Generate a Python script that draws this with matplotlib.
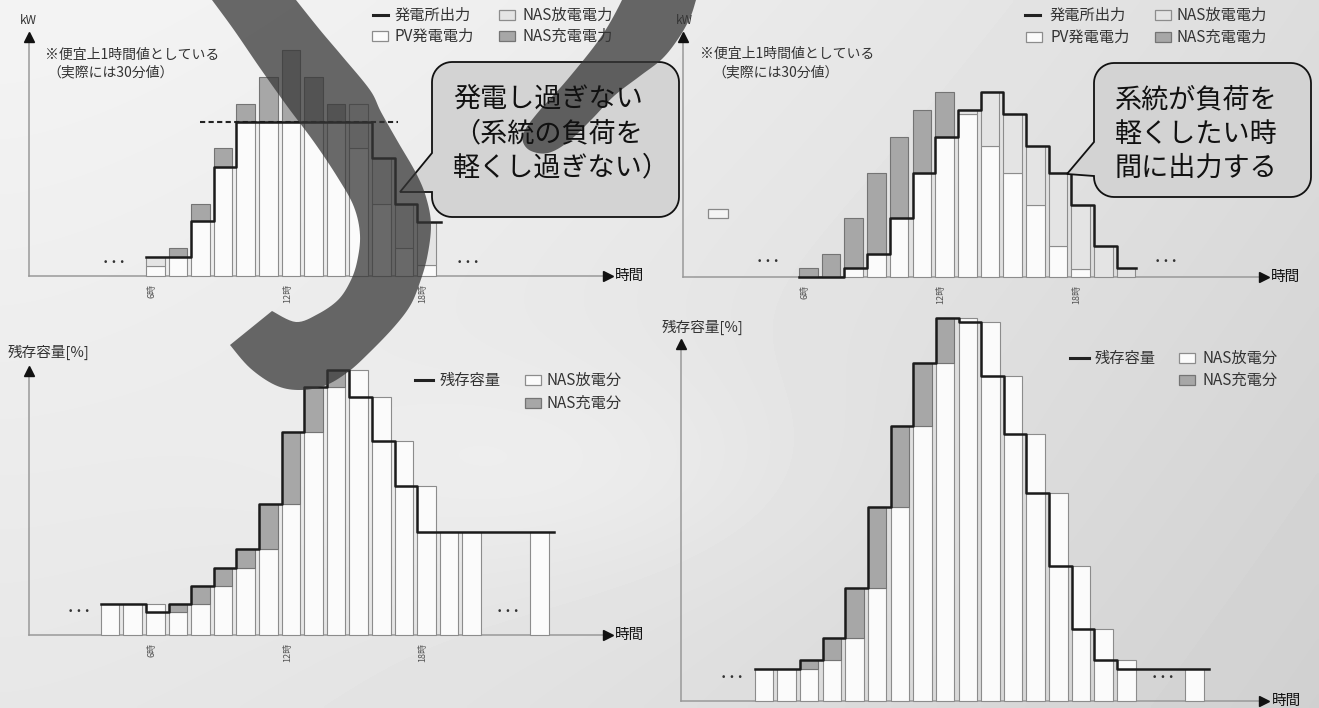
import numpy as np
import matplotlib
matplotlib.use("Agg")
import matplotlib.pyplot as plt
from matplotlib.patches import Polygon, Rectangle
from matplotlib.lines import Line2D
from matplotlib.transforms import Affine2D

plt.rcParams['font.family'] = ['Noto Sans CJK JP', 'DejaVu Sans']

W, H = 1319, 708

# 上段左: 発電し過ぎない運用（kW, 相対値）
hours_tl = list(range(6, 19))
pv_tl = [10, 28, 72, 128, 172, 199, 226, 199, 172, 128, 72, 28, 11]
out_tl = [19, 19, 55, 109, 154, 154, 154, 154, 154, 154, 118, 72, 54]
dis_tl = [9, 0, 0, 0, 0, 0, 0, 0, 0, 44, 46, 44, 43]
cap_tl = 154

# 上段右: 負荷を軽くしたい時間に出力
hours_tr = list(range(6, 21))
pv_tr = [9, 23, 59, 104, 140, 167, 185, 163, 131, 104, 72, 31, 8, 0, 0]
out_tr = [0, 0, 9, 23, 59, 104, 140, 167, 185, 163, 131, 104, 72, 31, 9]

# 下段: 残存容量（4時〜23時）
hours_soc = list(range(4, 24))
bar_hours_soc = list(range(4, 21)) + [23]
soc_bl = [31, 31, 23, 31, 49, 67, 86, 131, 203, 248, 265, 238, 194, 149,
          103, 103, 103, 103, 103, 103]
soc_br = [32, 32, 41, 63, 113, 194, 275, 338, 383, 379, 325, 267, 208, 135,
          72, 41, 32, 32, 32, 32]

tick_hours = [6, 12, 18]
tick_labels = ['6時', '12時', '18時']

bubble_tl = ['発電し過ぎない', '（系統の負荷を', '軽くし過ぎない）']
bubble_tr = ['系統が負荷を', '軽くしたい時', '間に出力する']

WHITE, LIGHT, GRAY = '#fbfbfb', '#e4e4e4', '#a7a7a7'
EDGE, EDGE_D = '#8c8c8c', '#747474'
BAR_W, OFF = 0.82, 0.25

fig = plt.figure(figsize=(W / 100, H / 100), dpi=100)
pix = Affine2D().scale(1 / W, -1 / H).translate(0, 1) + fig.transFigure

# 背景のグラデーション
bg = fig.add_axes([0, 0, 1, 1], zorder=-10)
yy, xx = np.mgrid[0:H:4, 0:W:4]
shade = 0.955 - 0.09 * (xx / W) ** 1.5 - 0.05 * (yy / H)
shade += 0.03 * np.exp(-(((xx - 560) / 260) ** 2 + ((yy - 470) / 110) ** 2))
bg.imshow(shade, cmap='gray', vmin=0, vmax=1, extent=(0, W, H, 0),
          aspect='auto', interpolation='bilinear')
bg.set_axis_off()


def panel(L, T, R, B, X0, s):
    ax = fig.add_axes([L / W, 1 - B / H, (R - L) / W, (B - T) / H])
    ax.set_xlim((L - X0) / s, (R - X0) / s)
    ax.set_ylim(0, B - T)
    ax.patch.set_alpha(0)
    for sp in ax.spines.values():
        sp.set_visible(False)
    ax.set_yticks([])
    ax.set_xticks(tick_hours, tick_labels, rotation=90, fontsize=6.5, color='#555')
    ax.tick_params(axis='x', length=0, pad=6)
    wpx, hpx = R - L, B - T
    ax.plot([0, 1 - 9 / wpx], [0, 0], transform=ax.transAxes, color='#999',
            lw=1.1, clip_on=False, zorder=1)
    ax.plot([1 - 4 / wpx], [0], '>', transform=ax.transAxes, color='#111',
            ms=7, clip_on=False)
    ax.plot([0, 0], [0, 1 - 8 / hpx], transform=ax.transAxes, color='#999',
            lw=1.1, clip_on=False, zorder=1)
    ax.plot([0], [1 - 4 / hpx], '^', transform=ax.transAxes, color='#111',
            ms=7, clip_on=False)
    return ax


def stack(ax, hours, bottoms, heights, fc, ec):
    hours = np.asarray(hours)
    bottoms = np.broadcast_to(np.asarray(bottoms, float), hours.shape)
    heights = np.asarray(heights, float)
    keep = heights > 0
    bars = ax.bar(hours[keep] - OFF, heights[keep], bottom=bottoms[keep],
                  width=BAR_W, align='edge', color=fc, edgecolor=ec,
                  linewidth=0.8, zorder=2)
    for b in bars:
        b.set_clip_on(False)


def step_line(ax, hours, levels, tail=0.8):
    xs = [h - OFF for h in hours] + [hours[-1] + tail]
    ys = list(levels) + [levels[-1]]
    ax.step(xs, ys, where='post', color='#1b1b1b', lw=1.8, zorder=4,
            clip_on=False)


def soc_bars(ax, levels):
    prev = [levels[0]] + levels[:-1]
    for h in bar_hours_soc:
        i = hours_soc.index(h)
        lo, hi = min(prev[i], levels[i]), max(prev[i], levels[i])
        up = levels[i] > prev[i]
        stack(ax, [h], 0, [lo], WHITE, EDGE)
        stack(ax, [h], lo, [hi - lo], GRAY if up else WHITE, EDGE_D if up else EDGE)
    step_line(ax, hours_soc, levels)


def dots(ax, x, y):
    ax.text(x, y, '• • •', ha='center', va='center', fontsize=6.5,
            color='#333', family='DejaVu Sans')


# 上段左
ax = panel(29, 33, 612, 276, 16.05, 22.6)
pv, out, dis = np.array(pv_tl), np.array(out_tl), np.array(dis_tl)
chg = np.clip(pv - out, 0, None)
stack(ax, hours_tl, 0, pv - chg, WHITE, EDGE)
stack(ax, hours_tl, pv - chg, chg, GRAY, EDGE_D)
stack(ax, hours_tl, pv, dis, LIGHT, EDGE)
ax.plot([8.14, 16.9], [cap_tl, cap_tl], color='#222', lw=1.5,
        ls=(0, (2.5, 1.6)), zorder=3)
step_line(ax, hours_tl, out_tl)
dots(ax, 4.35, 14)
dots(ax, 20.0, 14)

# 上段右
ax = panel(683, 33, 1268, 277, 668.5, 22.7)
pv, out = np.array(pv_tr), np.array(out_tr)
lo = np.minimum(pv, out)
stack(ax, hours_tr, 0, lo, WHITE, EDGE)
stack(ax, hours_tr, lo, pv - lo, GRAY, EDGE_D)
stack(ax, hours_tr, lo, out - lo, LIGHT, EDGE)
step_line(ax, hours_tr, out_tr, tail=0.6)
dots(ax, 4.4, 15)
dots(ax, 21.9, 15)

# 下段左・下段右
ax = panel(29, 367, 612, 635, 16.05, 22.6)
soc_bars(ax, soc_bl)
dots(ax, 2.8, 23)
dots(ax, 21.75, 23)

ax = panel(681, 340, 1268, 701, 669.6, 22.66)
soc_bars(ax, soc_br)
dots(ax, 2.75, 23)
dots(ax, 21.75, 23)


def ptext(x, y, s, size=10.5, ha='left', color='#333', z=3, **kw):
    fig.text(x, y, s, transform=pix, fontsize=size, ha=ha, va='center',
             color=color, zorder=z, **kw)


def leg_line(x0, x1, y, label, tx):
    fig.add_artist(Line2D([x0, x1], [y, y], transform=pix, color='#222', lw=2.2))
    ptext(tx, y, label, size=11)


def leg_box(x0, y, label, tx, fc, ec=EDGE):
    fig.add_artist(Rectangle((x0, y - 5), 16, 10, transform=pix, fc=fc, ec=ec, lw=0.9))
    ptext(tx, y, label, size=11)


# 凡例
leg_line(373, 388, 15, '発電所出力', 395)
leg_box(499, 15, 'NAS放電電力', 523, LIGHT)
leg_box(372, 36, 'PV発電電力', 395, WHITE)
leg_box(499, 36, 'NAS充電電力', 523, GRAY, EDGE_D)

leg_line(1025, 1040, 15, '発電所出力', 1050)
leg_box(1155, 15, 'NAS放電電力', 1177, LIGHT)
leg_box(1026, 37, 'PV発電電力', 1050, WHITE)
leg_box(1155, 37, 'NAS充電電力', 1177, GRAY, EDGE_D)

leg_line(415, 433, 380, '残存容量', 440)
leg_box(525, 380, 'NAS放電分', 547, WHITE)
leg_box(525, 403, 'NAS充電分', 547, GRAY, EDGE_D)

leg_line(1070, 1089, 358, '残存容量', 1095)
leg_box(1179, 358, 'NAS放電分', 1202, WHITE)
leg_box(1179, 380, 'NAS充電分', 1202, GRAY, EDGE_D)

# 軸ラベル・注記
ptext(28, 20, 'kW', size=8.5, ha='center')
ptext(684, 20, 'kW', size=8.5, ha='center')
ptext(45, 55, '※便宜上1時間値としている', size=10)
ptext(47, 72, '（実際には30分値）', size=10)
ptext(700, 54, '※便宜上1時間値としている', size=10)
ptext(712, 72, '（実際には30分値）', size=10)
ptext(8, 352, '残存容量[%]', size=10.5)
ptext(662, 327, '残存容量[%]', size=10.5)
for x, y in [(615, 276), (1271, 277), (615, 635), (1272, 701)]:
    ptext(x, y, '時間', size=10.5, color='#111')

# 小さな枠（上段右）
fig.add_artist(Rectangle((708, 209), 20, 9, transform=pix, fc='#f4f4f4',
                         ec='#888', lw=0.9))


def bubble(x0, y0, x1, y1, r, ta, tb, tip):
    def arc(cx, cy, a0, a1):
        t = np.radians(np.linspace(a0, a1, 12))
        return list(zip(cx + r * np.cos(t), cy + r * np.sin(t)))
    pts = (arc(x0 + r, y0 + r, 180, 270) + arc(x1 - r, y0 + r, 270, 360)
           + arc(x1 - r, y1 - r, 0, 90) + arc(x0 + r, y1 - r, 90, 180)
           + [(x0, tb), tip, (x0, ta)])
    fig.add_artist(Polygon(pts, closed=True, transform=pix, fc='#d3d3d3',
                           ec='#111', lw=1.3, zorder=4))


bubble(432, 62, 679, 217, 20, 153, 192, (400, 192))
bubble(1094, 63, 1311, 197, 20, 142, 176, (1067, 174))
for i, s in enumerate(bubble_tl):
    ptext(453, 100 + 34 * i, s, size=19.5, color='#111', z=7)
for i, s in enumerate(bubble_tr):
    ptext(1115, 100 + 34 * i, s, size=19.5, color='#111', z=7)


# 背景の装飾（半透明の帯）
def smooth(pts, n=8):
    p = np.asarray(pts, float)
    p = np.vstack([p[0], p, p[-1]])
    res = []
    for i in range(1, len(p) - 2):
        p0, p1, p2, p3 = p[i - 1], p[i], p[i + 1], p[i + 2]
        for t in np.linspace(0, 1, n, endpoint=False):
            res.append(0.5 * (2 * p1 + (-p0 + p2) * t
                              + (2 * p0 - 5 * p1 + 4 * p2 - p3) * t * t
                              + (-p0 + 3 * p1 - 3 * p2 + p3) * t ** 3))
    res.append(p[-2])
    return np.array(res)


inner = [(212, 0), (234, 30), (260, 68), (287, 106), (314, 142), (338, 178),
         (354, 207), (360, 235), (357, 262), (350, 282), (338, 300),
         (318, 314), (296, 322), (272, 311)]
outer = [(230, 345), (250, 368), (275, 385), (298, 390), (324, 386),
         (348, 372), (370, 352), (394, 327), (410, 306), (419, 285),
         (427, 258), (431, 225), (426, 197), (416, 173), (398, 142),
         (381, 112), (370, 90), (342, 56), (320, 30), (296, 0)]
band_a = np.vstack([smooth(inner), smooth(outer), [(296, -10), (212, -10)]])
band_b = smooth([(624, -10), (622, 0), (601, 37), (567, 80), (540, 110),
                 (525, 130), (523, 142), (531, 151), (548, 153), (568, 142),
                 (592, 119), (614, 96), (640, 76), (662, 59), (678, 39),
                 (690, 18), (696, 0), (699, -10)])
for band in (band_a, band_b):
    fig.add_artist(Polygon(band, closed=True, transform=pix, fc='#363636',
                           ec='none', alpha=0.74, zorder=5))

fig.savefig('out.png', dpi=100)
